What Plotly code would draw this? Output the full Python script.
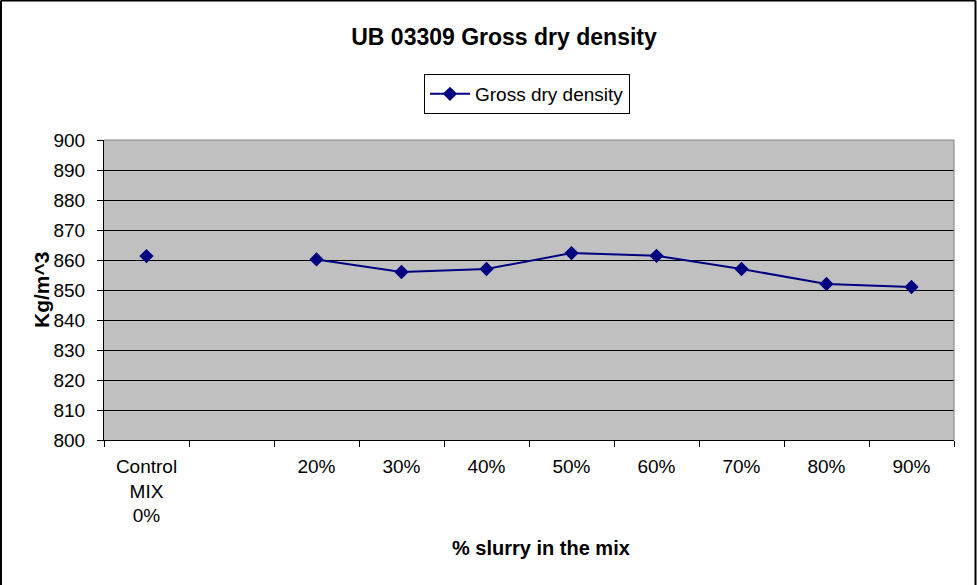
import plotly.graph_objects as go

categories = ["Control<br>MIX<br>0%", " ", "20%", "30%", "40%", "50%", "60%", "70%", "80%", "90%"]
density = [861.3, None, 860.2, 856, 857, 862.3, 861.4, 857, 852, 851]
series_name = "Gross dry density"
title_text = "UB 03309 Gross dry density"
x_title = "% slurry in the mix"
y_title = "Kg/m^3"

W, H = 977, 585
L, R, T, B = 104, 23, 140, 145
pw, ph = W - L - R, H - T - B

fig = go.Figure()
fig.add_trace(go.Scatter(
    x=categories, y=density, name=series_name, mode="lines+markers",
    line=dict(color="#000080", width=2),
    marker=dict(symbol="diamond", size=11, color="#000080"),
    connectgaps=False, showlegend=True,
))

font_family = "Liberation Sans, Arial, sans-serif"

fig.update_layout(
    width=W, height=H,
    margin=dict(l=L, r=R, t=T, b=B, pad=0),
    paper_bgcolor="white", plot_bgcolor="#C0C0C0",
    font=dict(family=font_family, size=19, color="black"),
    title=dict(text="<b>" + title_text + "</b>", x=504 / W, xanchor="center",
               y=1 - 37 / H, yanchor="middle", font=dict(size=23, color="black")),
    showlegend=True,
    legend=dict(x=(424 - L) / pw, y=1 + (T - 74) / ph, xanchor="left", yanchor="top",
                bordercolor="black", borderwidth=1, bgcolor="white",
                font=dict(size=19), itemwidth=40, tracegroupgap=0),
    xaxis=dict(type="category", categoryorder="array", categoryarray=categories,
               range=[-0.5, len(categories) - 0.5],
               showgrid=False, zeroline=False, showline=True, linecolor="black", linewidth=1,
               ticks="outside", tickson="boundaries", ticklen=6, tickcolor="black",
               tickfont=dict(size=19), ticklabelstandoff=9, fixedrange=True),
    yaxis=dict(range=[800, 900], dtick=10, tick0=800, showgrid=True, gridcolor="black",
               gridwidth=1, zeroline=False, showline=True, linecolor="black", linewidth=1,
               ticks="outside", ticklen=6, tickcolor="black", tickfont=dict(size=19),
               ticklabelstandoff=8),
    annotations=[
        dict(text="<b>" + x_title + "</b>", xref="paper", yref="paper",
             x=(541 - L) / pw, y=-(548 - (T + ph)) / ph, xanchor="center",
             yanchor="middle", showarrow=False, font=dict(size=20)),
        dict(text="<b>" + y_title + "</b>", xref="paper", yref="paper",
             x=(41 - L) / pw, y=0.5, xanchor="center", yanchor="middle",
             textangle=-90, showarrow=False, font=dict(size=21)),
    ],
)

# plot-area border top/right (gray)
fig.add_shape(type="line", xref="paper", yref="paper", x0=0, x1=1, y0=1, y1=1,
              line=dict(color="#808080", width=1))
fig.add_shape(type="line", xref="paper", yref="paper", x0=1, x1=1, y0=0, y1=1,
              line=dict(color="#808080", width=1))

# outer frame (top, left, right)
xl = -(L - 1) / pw
xr = (W - L - 1.5) / pw
yt = 1 + (T - 0.5) / ph
yb = -(B) / ph
for x0, x1, y0, y1 in [(xl, xr, yt, yt), (xl, xl, yb, yt), (xr, xr, yb, yt)]:
    fig.add_shape(type="line", xref="paper", yref="paper", x0=x0, x1=x1, y0=y0, y1=y1,
                  line=dict(color="black", width=2))

fig.write_html("out.html")
